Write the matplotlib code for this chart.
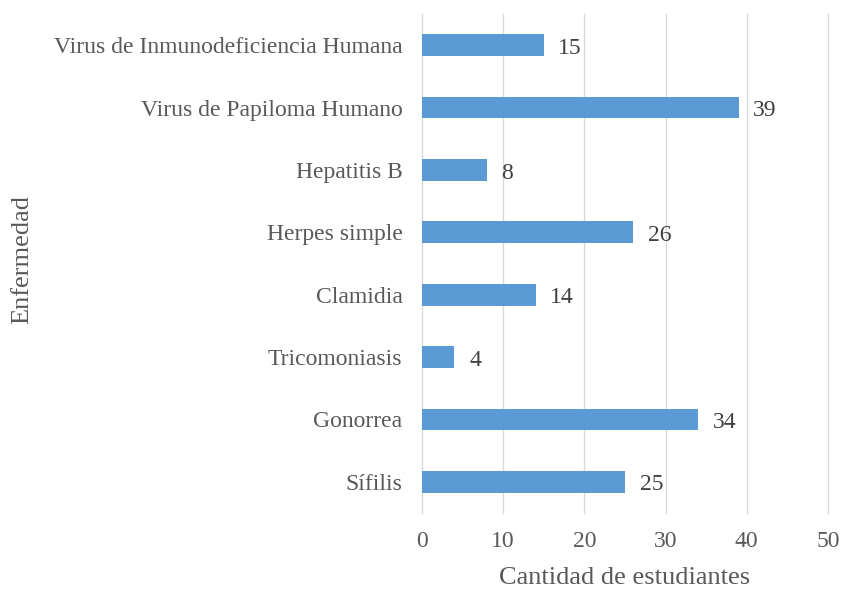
import matplotlib
matplotlib.use("Agg")
import matplotlib.pyplot as plt

categories = ["Sífilis", "Gonorrea", "Tricomoniasis", "Clamidia", "Herpes simple",
              "Hepatitis B", "Virus de Papiloma Humano", "Virus de Inmunodeficiencia Humana"]
values = [25, 34, 4, 14, 26, 8, 39, 15]
xticks = [0, 10, 20, 30, 40, 50]

plt.rcParams['font.family'] = ['Liberation Serif', 'DejaVu Serif']
txt = '#595959'

fig = plt.figure(figsize=(8.42, 5.90), dpi=100)
ax = fig.add_axes([422/842, 1 - 513/590, (828-422)/842, (513-14)/590])
y = range(len(categories))
ax.barh(y, values, height=0.35, color='#5B9BD5', zorder=3)
for yi, v in zip(y, values):
    ax.text(v + 1.8, yi - 0.05, str(v), va='center', ha='left', fontsize=17, color='#404040')
ax.set_xlim(0, 50)
ax.set_ylim(-0.5, len(categories) - 0.5)
ax.set_xticks(xticks)
ax.set_yticks(list(y))
ax.set_yticklabels(categories)
ax.tick_params(axis='both', length=0, labelsize=17, labelcolor=txt)
ax.tick_params(axis='x', pad=13)
ax.tick_params(axis='y', pad=14)
ax.grid(axis='x', color='#d9d9d9', linewidth=1, zorder=0)
for gl in ax.get_xgridlines():
    gl.set_clip_on(False)
for s in ax.spines.values():
    s.set_visible(False)
fig.text(625/842, 1 - 578/590, "Cantidad de estudiantes", fontsize=19, color=txt,
         ha='center', va='center')
fig.text(22/842, 1 - 260/590, "Enfermedad", fontsize=19, color=txt,
         ha='center', va='center', rotation=90)
fig.savefig("out.png", dpi=100)
